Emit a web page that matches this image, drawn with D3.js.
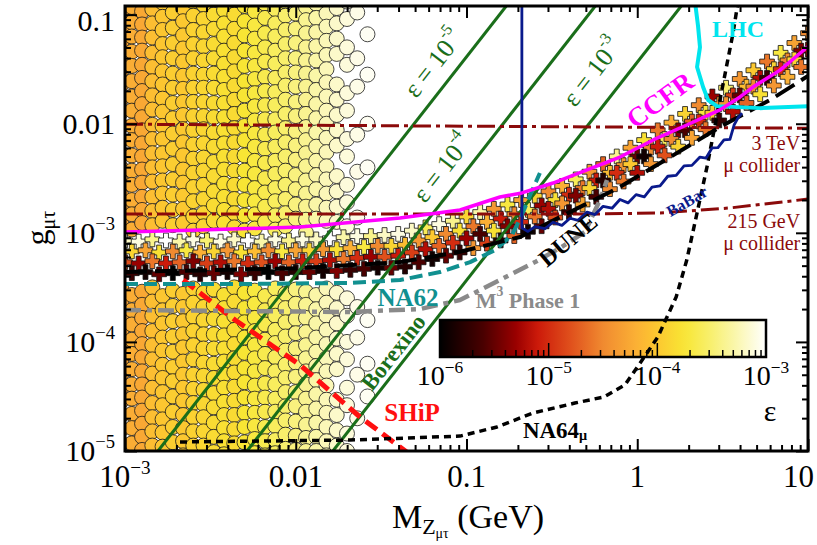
<!DOCTYPE html>
<html>
<head>
<meta charset="utf-8">
<script src="https://cdn.jsdelivr.net/npm/d3@7"></script>
<style>
  body { margin: 0; background: #fff; }
  svg { display: block; font-family: "Liberation Serif", "Times New Roman", serif; }
</style>
</head>
<body>
<div id="chart"></div>
<script>
// ---------------- data ----------------
// axes
const xMajor = [1e-3, 0.01, 0.1, 1, 10];
const xTickText = ["10^{−3}", "0.01", "0.1", "1", "10"];
const yMajor = [1e-5, 1e-4, 1e-3, 0.01, 0.1];
const yTickText = ["10^{−5}", "10^{−4}", "10^{−3}", "0.01", "0.1"];
const cbarMajor = [1e-6, 1e-5, 1e-4, 1e-3];
const cbarTickText = ["10^{−6}", "10^{−5}", "10^{−4}", "10^{−3}"];

// colour map for epsilon (log10 eps -> colour)
const epsStops = [-6, -5.6, -5.3, -5.1, -4.8, -4.5, -4.2, -4.0, -3.75, -3.5, -3.25, -3.0];
const epsColors = ["#000000", "#4a0000", "#9a0000", "#cc1a0a", "#e0501c", "#f08a30",
                   "#fbb035", "#fcc830", "#f8e634", "#f8f070", "#fbf7b5", "#ffffff"];

// scan points shown as circles: columns in log10(M/GeV), eps per column, log10(g) per column
const cloudColLogM = [-3.02, -2.96, -2.90, -2.84, -2.78, -2.72, -2.66, -2.60, -2.54, -2.48, -2.42, -2.36, -2.30,
                      -2.24, -2.18, -2.12, -2.06, -2.00, -1.94, -1.88, -1.82, -1.76, -1.70, -1.64, -1.58];
const cloudColLogEps = [-4.32, -4.22, -4.26, -4.08, -4.02, -3.96, -4.00, -3.92, -3.88, -3.84, -3.80, -3.84, -3.76,
                        -3.70, -3.64, -3.58, -3.52, -3.45, -3.38, -3.30, -3.24, -3.18, -3.12, -3.08, -3.04];
const cloudColLogG = [
  [-0.87,-1.00,-1.13,-1.25,-1.38,-1.51,-1.64,-1.77,-1.89,-2.02,-2.15,-2.28,-2.41,-2.53,-2.66,-2.79,-2.92,-3.52,-3.65,-3.78,-3.90,-4.03,-4.16,-4.29,-4.42,-4.54,-4.67,-4.80,-4.93,-5.06],
  [-0.93,-1.07,-1.20,-1.34,-1.47,-1.61,-1.75,-1.88,-2.02,-2.15,-2.29,-2.43,-2.56,-2.70,-2.83,-2.97,-3.57,-3.71,-3.84,-3.98,-4.11,-4.25,-4.39,-4.52,-4.66,-4.79,-4.93,-5.07],
  [-0.85,-0.97,-1.09,-1.21,-1.33,-1.46,-1.58,-1.70,-1.82,-1.94,-2.06,-2.18,-2.30,-2.42,-2.54,-2.67,-2.79,-2.91,-3.54,-3.66,-3.78,-3.90,-4.02,-4.14,-4.27,-4.39,-4.51,-4.63,-4.75,-4.87,-4.99],
  [-0.95,-1.08,-1.21,-1.35,-1.48,-1.61,-1.74,-1.87,-2.01,-2.14,-2.27,-2.40,-2.53,-2.67,-2.80,-2.93,-3.50,-3.63,-3.76,-3.90,-4.03,-4.16,-4.29,-4.42,-4.56,-4.69,-4.82,-4.95,-5.08],
  [-0.89,-1.02,-1.14,-1.27,-1.39,-1.52,-1.64,-1.77,-1.89,-2.02,-2.14,-2.27,-2.39,-2.52,-2.64,-2.77,-2.89,-3.58,-3.71,-3.83,-3.96,-4.08,-4.21,-4.33,-4.46,-4.58,-4.71,-4.83,-4.96,-5.08],
  [-0.84,-0.98,-1.12,-1.26,-1.40,-1.54,-1.67,-1.81,-1.95,-2.09,-2.23,-2.37,-2.51,-2.65,-2.79,-2.93,-3.53,-3.67,-3.81,-3.95,-4.09,-4.23,-4.36,-4.50,-4.64,-4.78,-4.92,-5.06],
  [-0.94,-1.06,-1.19,-1.31,-1.43,-1.56,-1.68,-1.80,-1.92,-2.05,-2.17,-2.29,-2.42,-2.54,-2.66,-2.78,-2.91,-3.56,-3.68,-3.81,-3.93,-4.05,-4.18,-4.30,-4.42,-4.54,-4.67,-4.79,-4.91,-5.04],
  [-0.88,-1.01,-1.14,-1.27,-1.40,-1.54,-1.67,-1.80,-1.93,-2.06,-2.19,-2.32,-2.45,-2.58,-2.71,-2.85,-2.98,-3.51,-3.64,-3.77,-3.90,-4.03,-4.16,-4.30,-4.43,-4.56,-4.69,-4.82,-4.95,-5.08],
  [-0.91,-1.04,-1.16,-1.29,-1.42,-1.55,-1.67,-1.80,-1.93,-2.05,-2.18,-2.31,-2.43,-2.56,-2.69,-2.82,-2.94,-3.55,-3.68,-3.80,-3.93,-4.06,-4.19,-4.31,-4.44,-4.57,-4.69,-4.82,-4.95,-5.07],
  [-0.86,-1.00,-1.13,-1.27,-1.40,-1.54,-1.67,-1.81,-1.94,-2.08,-2.21,-2.35,-2.48,-2.62,-2.75,-2.89,-3.52,-3.66,-3.79,-3.93,-4.06,-4.20,-4.33,-4.47,-4.60,-4.74,-4.87,-5.01],
  [-0.96,-1.08,-1.20,-1.33,-1.45,-1.57,-1.69,-1.81,-1.94,-2.06,-2.18,-2.30,-2.42,-2.55,-2.67,-2.79,-2.91,-3.57,-3.69,-3.81,-3.94,-4.06,-4.18,-4.30,-4.42,-4.55,-4.67,-4.79,-4.91,-5.03],
  [-0.87,-1.00,-1.13,-1.26,-1.39,-1.52,-1.65,-1.78,-1.91,-2.04,-2.17,-2.30,-2.43,-2.56,-2.69,-2.82,-2.95,-3.50,-3.63,-3.76,-3.89,-4.02,-4.15,-4.28,-4.41,-4.54,-4.67,-4.80,-4.93,-5.06],
  [-0.92,-1.06,-1.19,-1.33,-1.47,-1.61,-1.74,-1.88,-2.02,-2.15,-2.29,-2.43,-2.56,-2.70,-2.84,-2.98,-3.55,-3.69,-3.82,-3.96,-4.10,-4.24,-4.37,-4.51,-4.65,-4.78,-4.92,-5.06],
  [-0.85,-0.97,-1.10,-1.22,-1.35,-1.47,-1.59,-1.72,-1.84,-1.97,-2.09,-2.21,-2.34,-2.46,-2.59,-2.71,-2.83,-2.96,-3.53,-3.65,-3.78,-3.90,-4.03,-4.15,-4.27,-4.40,-4.52,-4.65,-4.77,-4.89,-5.02],
  [-0.90,-1.03,-1.17,-1.30,-1.43,-1.57,-1.70,-1.83,-1.96,-2.10,-2.23,-2.36,-2.50,-2.63,-2.76,-2.90,-3.58,-3.71,-3.84,-3.98,-4.11,-4.24,-4.38,-4.51,-4.64,-4.78,-4.91,-5.04],
  [-0.95,-1.08,-1.20,-1.33,-1.45,-1.58,-1.71,-1.83,-1.96,-2.08,-2.21,-2.34,-2.46,-2.59,-2.71,-2.84,-2.97,-3.51,-3.64,-3.76,-3.89,-4.01,-4.14,-4.27,-4.39,-4.52,-4.64,-4.77,-4.90,-5.02],
  [-0.88,-1.01,-1.14,-1.27,-1.40,-1.53,-1.65,-1.78,-1.91,-2.04,-2.17,-2.30,-2.43,-2.56,-2.69,-2.82,-2.94,-3.56,-3.69,-3.82,-3.95,-4.08,-4.21,-4.33,-4.46,-4.59,-4.72,-4.85,-4.98],
  [-0.86,-0.99,-1.13,-1.26,-1.40,-1.53,-1.66,-1.80,-1.93,-2.07,-2.20,-2.33,-2.47,-2.60,-2.74,-2.87,-3.52,-3.65,-3.79,-3.92,-4.06,-4.19,-4.32,-4.46,-4.59,-4.73,-4.86,-4.99],
  [-0.93,-1.05,-1.17,-1.30,-1.42,-1.54,-1.66,-1.78,-1.91,-2.03,-2.15,-2.27,-2.39,-2.52,-2.64,-2.76,-2.88,-3.00,-3.54,-3.66,-3.78,-3.91,-4.03,-4.15,-4.27,-4.39,-4.52,-4.64,-4.76,-4.88,-5.00],
  [-0.90,-1.03,-1.16,-1.29,-1.42,-1.56,-1.69,-1.82,-1.95,-2.08,-2.21,-2.34,-2.47,-2.60,-2.74,-2.87,-3.57,-3.70,-3.83,-3.96,-4.09,-4.22,-4.35,-4.48,-4.61,-4.74,-4.87,-5.00],
  [-0.86,-0.99,-1.11,-1.24,-1.37,-1.50,-1.62,-1.75,-1.88,-2.00,-2.13,-2.26,-2.39,-2.51,-2.64,-2.77,-2.89,-3.51,-3.64,-3.76,-3.89,-4.02,-4.15,-4.27,-4.40,-4.53,-4.65,-4.78,-4.91,-5.04],
  [-0.94,-1.08,-1.22,-1.36,-1.64,-1.78,-1.92,-2.06,-2.20,-2.48,-2.62,-2.76,-2.90,-3.55,-3.69,-3.83,-3.97,-4.11,-4.25,-4.53,-4.67,-4.81,-4.95],
  [-0.88,-1.04,-1.30,-1.46,-1.72,-1.88,-2.14,-2.30,-2.56,-2.72,-2.94,-3.60,-3.76,-4.00,-4.16,-4.42,-4.58,-4.84,-5.00],
  [-0.98,-1.40,-1.66,-2.10,-2.44,-2.86,-3.68,-3.96,-4.30,-4.70],
  [-1.18,-1.55,-2.00,-2.40,-3.80,-4.20,-4.50]
];

// scan points shown as crosses: [log10 M, log10 g, log10 eps]
const crossPts = [
  [-3.00,-3.07,-3.2],[-2.96,-3.17,-3.9],[-3.00,-3.27,-4.8],[-2.96,-3.37,-5.7],
  [-2.92,-3.08,-3.1],[-2.88,-3.16,-4.3],[-2.92,-3.28,-5.3],[-2.88,-3.36,-5.9],
  [-2.84,-3.06,-3.4],[-2.80,-3.18,-3.8],[-2.84,-3.26,-4.6],[-2.80,-3.38,-5.5],
  [-2.76,-3.07,-3.0],[-2.72,-3.17,-4.5],[-2.76,-3.28,-5.1],[-2.72,-3.37,-6.0],
  [-2.68,-3.08,-3.3],[-2.64,-3.16,-3.7],[-2.68,-3.27,-4.7],[-2.64,-3.36,-5.6],
  [-2.60,-3.06,-3.1],[-2.56,-3.18,-4.2],[-2.60,-3.26,-5.4],[-2.56,-3.38,-5.8],
  [-2.52,-3.07,-3.5],[-2.48,-3.17,-3.9],[-2.52,-3.28,-4.9],[-2.48,-3.37,-5.5],
  [-2.44,-3.08,-3.1],[-2.40,-3.16,-4.4],[-2.44,-3.27,-5.2],[-2.40,-3.36,-5.9],
  [-2.36,-3.06,-3.2],[-2.32,-3.18,-3.8],[-2.36,-3.26,-4.6],[-2.32,-3.38,-5.4],
  [-2.28,-3.07,-3.0],[-2.24,-3.17,-4.1],[-2.28,-3.28,-5.0],[-2.24,-3.37,-5.7],
  [-2.20,-3.08,-3.3],[-2.16,-3.16,-4.5],[-2.20,-3.27,-4.8],[-2.16,-3.36,-6.0],
  [-2.12,-3.06,-3.1],[-2.08,-3.17,-3.7],[-2.12,-3.26,-5.3],[-2.08,-3.37,-5.6],
  [-2.04,-3.07,-3.4],[-2.00,-3.16,-4.3],[-2.04,-3.27,-4.7],[-2.00,-3.36,-5.8],
  [-1.96,-3.06,-3.1],[-1.92,-3.16,-3.9],[-1.96,-3.26,-5.1],[-1.92,-3.36,-5.5],
  [-1.88,-3.06,-3.2],[-1.84,-3.15,-4.4],[-1.88,-3.26,-4.9],[-1.84,-3.35,-5.9],
  [-1.80,-3.05,-3.0],[-1.76,-3.15,-3.8],[-1.80,-3.25,-5.2],[-1.76,-3.35,-5.4],
  [-1.72,-3.04,-3.3],[-1.68,-3.14,-4.2],[-1.72,-3.24,-4.6],[-1.68,-3.34,-5.7],
  [-1.64,-3.03,-3.1],[-1.60,-3.13,-3.7],[-1.64,-3.23,-5.0],[-1.60,-3.33,-5.6],
  [-1.56,-3.03,-3.4],[-1.52,-3.12,-4.5],[-1.56,-3.22,-5.3],[-1.52,-3.32,-5.9],
  [-1.48,-3.02,-3.2],[-1.44,-3.12,-3.9],[-1.48,-3.22,-4.8],[-1.44,-3.32,-5.5],
  [-1.40,-3.01,-3.1],[-1.36,-3.11,-4.1],[-1.40,-3.21,-5.1],[-1.36,-3.31,-5.8],
  [-1.32,-2.98,-3.2],[-1.28,-3.07,-4.4],[-1.32,-3.18,-4.9],[-1.28,-3.27,-5.6],
  [-1.24,-2.95,-3.6],[-1.20,-3.04,-4.0],[-1.24,-3.15,-5.2],[-1.20,-3.24,-5.9],
  [-1.16,-2.92,-3.1],[-1.12,-3.01,-4.5],[-1.16,-3.12,-4.7],[-1.12,-3.21,-5.5],
  [-1.08,-2.89,-3.4],[-1.04,-2.98,-3.8],[-1.08,-3.09,-5.0],[-1.04,-3.18,-5.7],
  [-1.00,-2.85,-3.9],[-0.96,-2.94,-4.6],[-1.00,-3.05,-5.3],[-0.96,-3.14,-4.4],
  [-0.92,-2.81,-3.3],[-0.88,-2.90,-4.2],[-0.92,-3.01,-5.6],[-0.88,-3.10,-4.9],
  [-0.84,-2.78,-4.4],[-0.80,-2.87,-5.1],[-0.84,-2.98,-3.8],[-0.80,-3.07,-5.8],
  [-0.76,-2.74,-3.7],[-0.72,-2.83,-4.5],[-0.76,-2.94,-5.4],[-0.72,-3.03,-4.7],
  [-0.68,-2.70,-4.3],[-0.64,-2.79,-3.6],[-0.68,-2.90,-5.0],[-0.64,-2.99,-5.9],
  [-0.60,-2.66,-3.9],[-0.56,-2.75,-5.3],[-0.60,-2.85,-4.6],[-0.56,-2.94,-5.5],
  [-0.52,-2.62,-4.5],[-0.48,-2.70,-3.8],[-0.52,-2.78,-5.2],[-0.48,-2.86,-4.8],
  [-0.44,-2.57,-4.2],[-0.40,-2.65,-5.0],[-0.44,-2.73,-4.4],[-0.40,-2.81,-5.7],
  [-0.36,-2.51,-3.6],[-0.32,-2.59,-4.6],[-0.36,-2.66,-5.4],[-0.32,-2.74,-4.3],
  [-0.28,-2.44,-4.4],[-0.24,-2.52,-5.1],[-0.28,-2.59,-3.9],[-0.24,-2.67,-5.6],
  [-0.20,-2.37,-4.7],[-0.16,-2.45,-4.1],[-0.20,-2.52,-5.8],[-0.16,-2.60,-4.5],
  [-0.12,-2.30,-3.4],[-0.08,-2.38,-4.4],[-0.12,-2.45,-5.0],[-0.08,-2.53,-4.6],
  [-0.04,-2.22,-4.3],[ 0.00,-2.30,-5.5],[-0.04,-2.37,-4.0],[ 0.00,-2.45,-5.2],
  [ 0.04,-2.15,-3.8],[ 0.08,-2.22,-4.5],[ 0.04,-2.30,-5.9],[ 0.08,-2.37,-4.4],
  [ 0.12,-2.06,-4.6],[ 0.16,-2.14,-3.6],[ 0.12,-2.21,-5.1],[ 0.16,-2.29,-4.8],
  [ 0.20,-1.99,-4.2],[ 0.24,-2.06,-5.4],[ 0.20,-2.14,-4.5],[ 0.24,-2.21,-3.9],
  [ 0.28,-1.91,-3.9],[ 0.32,-1.98,-4.7],[ 0.28,-2.06,-5.6],[ 0.32,-2.13,-4.3],
  [ 0.36,-1.83,-4.5],[ 0.40,-1.90,-3.7],[ 0.36,-1.98,-5.0],[ 0.40,-2.05,-4.6],
  [ 0.44,-1.75,-5.3],[ 0.48,-1.82,-4.4],[ 0.44,-1.90,-4.0],[ 0.48,-1.97,-5.7],
  [ 0.52,-1.67,-3.5],[ 0.56,-1.74,-4.9],[ 0.52,-1.82,-4.4],[ 0.56,-1.89,-5.2],
  [ 0.60,-1.59,-4.4],[ 0.64,-1.66,-4.1],[ 0.60,-1.74,-5.5],[ 0.64,-1.81,-4.7],
  [ 0.68,-1.51,-4.0],[ 0.72,-1.58,-5.2],[ 0.68,-1.66,-4.5],[ 0.72,-1.73,-3.8],
  [ 0.76,-1.43,-4.6],[ 0.80,-1.50,-3.9],[ 0.76,-1.58,-5.7],[ 0.80,-1.65,-4.4],
  [ 0.84,-1.35,-3.7],[ 0.88,-1.42,-4.5],[ 0.84,-1.50,-5.0],[ 0.88,-1.57,-4.2],
  [ 0.92,-1.26,-4.3],[ 0.96,-1.33,-5.4],[ 0.92,-1.41,-3.9],[ 0.96,-1.48,-4.6],
  [ 1.00,-1.17,-4.5],[ 1.04,-1.24,-4.0],[ 1.00,-1.32,-5.1],[ 1.04,-1.39,-4.4]
];

// limit / sensitivity curves (M in GeV, g)
const ccfrM = [1e-3, 2.75e-3, 0.0106, 0.0408, 0.0916, 0.157, 0.211, 0.321, 0.508, 0.792, 1.24, 1.95, 3.05, 4.00, 4.76, 6.86, 10];
const ccfrG = [1.02e-3, 1.06e-3, 1.13e-3, 1.37e-3, 1.62e-3, 2.13e-3, 2.32e-3, 2.86e-3, 3.77e-3, 4.95e-3, 7.10e-3, 9.73e-3, 0.0134, 0.0176, 0.0217, 0.0310, 0.0510];
const tev3M = [1e-3, 10];
const tev3G = [9.9e-3, 9.1e-3];
const gev215M = [1e-3, 0.605, 1.36, 3.49, 10];
const gev215G = [1.49e-3, 1.49e-3, 1.52e-3, 1.69e-3, 2.04e-3];
const babarM = [0.211, 0.211, 0.229, 0.252, 0.288, 0.321, 0.362, 0.404, 0.450, 0.508, 0.566, 0.631, 0.712, 0.792, 0.883, 0.984,
                1.10, 1.22, 1.36, 1.51, 1.69, 1.88, 2.09, 2.33, 2.53, 2.74, 2.97, 3.22, 3.49, 3.69, 3.89, 4.11];
const babarG = [0.13, 1.11e-3, 1.03e-3, 1.14e-3, 1.09e-3, 1.25e-3, 1.17e-3, 1.36e-3, 1.30e-3, 1.55e-3, 1.47e-3, 1.75e-3, 1.68e-3,
                2.02e-3, 1.88e-3, 2.24e-3, 2.14e-3, 2.62e-3, 2.70e-3, 3.30e-3, 3.36e-3, 4.10e-3, 4.15e-3, 4.95e-3, 4.85e-3,
                6.00e-3, 6.05e-3, 7.10e-3, 7.20e-3, 9.73e-3, 0.0113, 0.0125];
const duneM = [1e-3, 0.0106, 0.0408, 0.0916, 0.206, 0.404, 0.792, 1.56, 3.05, 5.99, 10];
const duneG = [4.37e-4, 4.75e-4, 5.39e-4, 6.7e-4, 9.15e-4, 1.55e-3, 2.63e-3, 4.95e-3, 9.33e-3, 0.0165, 0.0274];
const na62M = [1e-3, 5.4e-3, 0.0208, 0.0408, 0.070, 0.105, 0.147, 0.185, 0.211, 0.236, 0.269];
const na62G = [3.40e-4, 3.40e-4, 3.47e-4, 3.69e-4, 4.37e-4, 5.39e-4, 6.95e-4, 9.55e-4, 1.46e-3, 2.22e-3, 3.53e-3];
const m3M = [1e-3, 0.0208, 0.0534, 0.0916, 0.157, 0.252, 0.353, 0.494, 0.605, 0.665];
const m3G = [1.96e-4, 1.88e-4, 2.00e-4, 2.42e-4, 3.69e-4, 5.39e-4, 7.26e-4, 1.02e-3, 2.0e-3, 3.05e-3];
const shipM = [2.19e-3, 4.41e-3, 0.0106, 0.0238, 0.0454];
const shipG = [3.69e-4, 1.59e-4, 6.14e-5, 2.05e-5, 9.6e-6];
const na64M = [2.10e-3, 0.0208, 0.0916, 0.151, 0.245, 0.431, 0.638, 0.847, 1.04, 1.32, 1.69, 1.95, 2.24, 2.56, 3.05, 3.64, 3.89];
const na64G = [1.21e-5, 1.26e-5, 1.37e-5, 1.66e-5, 2.23e-5, 2.75e-5, 3.13e-5, 4.03e-5, 6.41e-5, 1.11e-4, 2.58e-4, 5.63e-4,
               1.52e-3, 4.01e-3, 0.0165, 0.0678, 0.13];
const lhcM = [2.18, 2.27, 2.33, 2.24, 2.43, 2.60, 2.93, 5.24, 10];
const lhcG = [0.13, 0.0787, 0.0504, 0.0331, 0.0217, 0.0165, 0.0145, 0.0139, 0.0145];
// constant-epsilon lines: M at g = 1e-5 and at g = 0.12
const epsLineM = [[1.56e-3, 0.171], [5.18e-3, 0.568], [0.0165, 1.81]];
const epsLineG = [1e-5, 0.12];

// annotations: text, position (M, g), rotation, colour, size, weight
const notes = [
  {t: "LHC", m: 3.89, g: 0.0738, r: 0, c: "#00e5ee", s: 24, b: true},
  {t: "CCFR", m: 1.36, g: 0.0165, r: -36, c: "#ff00ff", s: 27, b: true},
  {t: "3 TeV", m: 9.0, g: 6.65e-3, r: 0, c: "#8b0a0a", s: 20, b: false, a: "end"},
  {t: "μ collider", m: 9.0, g: 4.18e-3, r: 0, c: "#8b0a0a", s: 20, b: false, a: "end"},
  {t: "215 GeV", m: 9.0, g: 1.28e-3, r: 0, c: "#8b0a0a", s: 20, b: false, a: "end"},
  {t: "μ collider", m: 9.0, g: 8.07e-4, r: 0, c: "#8b0a0a", s: 20, b: false, a: "end"},
  {t: "BaBar", m: 1.95, g: 1.96e-3, r: -30, c: "#0a1a8c", s: 16, b: true},
  {t: "DUNE", m: 0.393, g: 8.59e-4, r: -40, c: "#000000", s: 24, b: true},
  {t: "NA62", m: 0.0454, g: 2.58e-4, r: 0, c: "#119090", s: 25, b: true},
  {t: "M^{3} Phase 1", m: 0.229, g: 2.42e-4, r: 0, c: "#8a8a8a", s: 22, b: true},
  {t: "SHiP", m: 0.048, g: 2.28e-5, r: 0, c: "#ff1010", s: 25, b: true},
  {t: "NA64_{μ}", m: 0.330, g: 1.56e-5, r: 0, c: "#000000", s: 23, b: true},
  {t: "Borexino", m: 0.0372, g: 8.07e-5, r: -52, c: "#1a6e1a", s: 23, b: true},
  {t: "ε = 10^{-5}", m: 0.0637, g: 0.0360, r: -52, c: "#1a6e1a", s: 26, b: false},
  {t: "ε = 10^{-4}", m: 0.0719, g: 3.93e-3, r: -52, c: "#1a6e1a", s: 26, b: false},
  {t: "ε = 10^{-3}", m: 0.543, g: 0.0298, r: -52, c: "#1a6e1a", s: 26, b: false},
  {t: "ε", m: 5.99, g: 2.38e-5, r: 0, c: "#000000", s: 30, b: false}
];

// ---------------- drawing ----------------
const W = 817, H = 545;
const x = d3.scaleLog().domain([1e-3, 10]).range([125, 808]);
const y = d3.scaleLog().domain([1e-5, 0.12]).range([451, 6]);
const epsColor = d3.scaleLinear().domain(epsStops).range(epsColors).clamp(true);

const svg = d3.select("#chart").append("svg")
  .attr("width", W).attr("height", H)
  .style("background", "#fff");

svg.append("defs").append("clipPath").attr("id", "plotclip")
  .append("rect")
  .attr("x", x.range()[0]).attr("y", y.range()[1])
  .attr("width", x.range()[1] - x.range()[0])
  .attr("height", y.range()[0] - y.range()[1]);

// rich text helper: "^{..}" superscript, "_{..}" subscript
function parseRich(str) {
  const parts = [];
  const re = /([\^_])\{([^}]*)\}/g;
  let last = 0, mt;
  while ((mt = re.exec(str))) {
    if (mt.index > last) parts.push([str.slice(last, mt.index), 0]);
    parts.push([mt[2], mt[1] === "^" ? 1 : -1]);
    last = re.lastIndex;
  }
  if (last < str.length) parts.push([str.slice(last), 0]);
  return parts;
}
function richText(text, str, size) {
  let shift = 0;
  parseRich(str).forEach(([s, k]) => {
    const target = k === 1 ? -size * 0.42 : k === -1 ? size * 0.22 : 0;
    text.append("tspan")
      .attr("dy", target - shift)
      .attr("font-size", k ? size * 0.62 : size)
      .text(s);
    shift = target;
  });
}

const plot = svg.append("g").attr("clip-path", "url(#plotclip)");

// circles
const cloud = [];
cloudColLogM.forEach((lm, i) => {
  cloudColLogG[i].forEach(lg => cloud.push({m: Math.pow(10, lm), g: Math.pow(10, lg), e: cloudColLogEps[i]}));
});
plot.append("g").selectAll("circle")
  .data(cloud)
  .join("circle")
  .attr("cx", d => x(d.m))
  .attr("cy", d => y(d.g))
  .attr("r", 7.5)
  .attr("fill", d => epsColor(d.e))
  .attr("stroke", "#1a1a1a")
  .attr("stroke-width", 0.8);

// crosses
const crossShape = d3.symbol(d3.symbolCross, 120)();
plot.append("g").selectAll("path")
  .data(crossPts)
  .join("path")
  .attr("transform", d => `translate(${x(Math.pow(10, d[0]))},${y(Math.pow(10, d[1]))})`)
  .attr("d", crossShape)
  .attr("fill", d => epsColor(d[2]))
  .attr("stroke", "#111")
  .attr("stroke-width", 0.8);

// colour bar
const cb = {x0: 440, x1: 766, y0: 320, y1: 357};
const cbx = d3.scaleLog().domain([1e-6, 1e-3]).range([cb.x0, cb.x1]);
const grad = svg.select("defs").append("linearGradient").attr("id", "cbgrad");
d3.range(0, 31).forEach(i => {
  grad.append("stop").attr("offset", (i / 30 * 100) + "%").attr("stop-color", epsColor(-6 + 3 * i / 30));
});
const cbar = svg.append("g");
cbar.append("rect")
  .attr("x", cb.x0).attr("y", cb.y0)
  .attr("width", cb.x1 - cb.x0).attr("height", cb.y1 - cb.y0)
  .attr("fill", "url(#cbgrad)")
  .attr("stroke", "#000").attr("stroke-width", 2.5);
const cbMinor = cbx.ticks().filter(v => !cbarMajor.some(m => Math.abs(m - v) / m < 1e-6));
cbar.selectAll(".cbminor").data(cbMinor).join("line")
  .attr("x1", d => cbx(d)).attr("x2", d => cbx(d))
  .attr("y1", cb.y1).attr("y2", cb.y1 - 7)
  .attr("stroke", "#000").attr("stroke-width", 1.5);
cbar.selectAll(".cbmajor").data(cbarMajor).join("line")
  .attr("x1", d => cbx(d)).attr("x2", d => cbx(d))
  .attr("y1", cb.y1).attr("y2", cb.y1 - 14)
  .attr("stroke", "#000").attr("stroke-width", 1.5);
cbarMajor.forEach((v, i) => {
  const t = cbar.append("text")
    .attr("x", cbx(v)).attr("y", 385)
    .attr("text-anchor", "middle").attr("font-size", 28).attr("fill", "#000");
  richText(t, cbarTickText[i], 28);
});

// curves
const line = d3.line().x(d => x(d[0])).y(d => y(d[1]));
const lines = svg.append("g").attr("clip-path", "url(#plotclip)").attr("fill", "none");
function curve(M, G, color, width, dash) {
  lines.append("path")
    .attr("d", line(d3.zip(M, G)))
    .attr("stroke", color)
    .attr("stroke-width", width)
    .attr("stroke-dasharray", dash || null)
    .attr("stroke-linejoin", "round");
}
epsLineM.forEach(ms => curve(ms, epsLineG, "#1a6e1a", 3));
curve(tev3M, tev3G, "#8b0a0a", 3, "18,5,4,5");
curve(gev215M, gev215G, "#8b0a0a", 3, "18,5,4,5");
curve(shipM, shipG, "#ff1010", 5, "14,7");
curve(m3M, m3G, "#8a8a8a", 4.5, "16,6,5,6");
curve(na62M, na62G, "#119090", 4, "13,6");
curve(duneM, duneG, "#000000", 4, "22,8");
curve(na64M, na64G, "#000000", 3.5, "7,5");
curve(babarM, babarG, "#0a1a8c", 2.8);
curve(lhcM, lhcG, "#00e5ee", 4);
curve(ccfrM, ccfrG, "#ff00ff", 3.5);

// annotations
const ann = svg.append("g");
notes.forEach(n => {
  const t = ann.append("text")
    .attr("transform", `translate(${x(n.m)},${y(n.g)}) rotate(${n.r})`)
    .attr("text-anchor", n.a || "middle")
    .attr("dominant-baseline", "central")
    .attr("font-size", n.s)
    .attr("font-weight", n.b ? "bold" : "normal")
    .attr("fill", n.c);
  richText(t, n.t, n.s);
});

// axes: ticks on all four sides, pointing inward
const xMinor = x.ticks().filter(v => !xMajor.some(m => Math.abs(m - v) / m < 1e-6));
const yMinor = y.ticks().filter(v => !yMajor.some(m => Math.abs(m - v) / m < 1e-6));
const axes = svg.append("g");
function ticks(axisFn, scale, values, size, transform) {
  const g = axes.append("g").attr("transform", transform)
    .call(axisFn(scale).tickValues(values).tickSize(-size).tickFormat(""));
  g.select(".domain").remove();
  g.selectAll("line").attr("stroke", "#000").attr("stroke-width", 2);
}
ticks(d3.axisBottom, x, xMinor, 6, `translate(0,${y.range()[0]})`);
ticks(d3.axisBottom, x, xMajor, 12, `translate(0,${y.range()[0]})`);
ticks(d3.axisTop, x, xMinor, 6, `translate(0,${y.range()[1]})`);
ticks(d3.axisTop, x, xMajor, 12, `translate(0,${y.range()[1]})`);
ticks(d3.axisLeft, y, yMinor, 6, `translate(${x.range()[0]},0)`);
ticks(d3.axisLeft, y, yMajor, 12, `translate(${x.range()[0]},0)`);
ticks(d3.axisRight, y, yMinor, 6, `translate(${x.range()[1]},0)`);
ticks(d3.axisRight, y, yMajor, 12, `translate(${x.range()[1]},0)`);

axes.append("rect")
  .attr("x", x.range()[0]).attr("y", y.range()[1])
  .attr("width", x.range()[1] - x.range()[0])
  .attr("height", y.range()[0] - y.range()[1])
  .attr("fill", "none").attr("stroke", "#000").attr("stroke-width", 3);

// tick labels
xMajor.forEach((v, i) => {
  const t = axes.append("text")
    .attr("x", x(v)).attr("y", 487)
    .attr("text-anchor", "middle").attr("font-size", 31);
  richText(t, xTickText[i], 31);
  const bb = t.node().getBBox();
  if (bb.x + bb.width > W - 3) t.attr("x", x(v) - (bb.x + bb.width - (W - 3)));
});
yMajor.forEach((v, i) => {
  const t = axes.append("text")
    .attr("x", 115).attr("y", Math.max(y(v) + 10, 31))
    .attr("text-anchor", "end").attr("font-size", 30);
  richText(t, yTickText[i], 30);
});

// axis titles
const xt = axes.append("text")
  .attr("x", 468).attr("y", 528)
  .attr("text-anchor", "middle").attr("font-size", 34);
xt.append("tspan").text("M");
xt.append("tspan").attr("font-size", 22).attr("dy", 6).text("Z");
xt.append("tspan").attr("font-size", 14).attr("dy", 4).text("μτ");
xt.append("tspan").attr("font-size", 34).attr("dy", -10).text(" (GeV)");

const yt = axes.append("text")
  .attr("transform", "translate(48,228) rotate(-90)")
  .attr("text-anchor", "middle").attr("font-size", 32);
yt.append("tspan").text("g");
yt.append("tspan").attr("font-size", 20).attr("dy", 7).text("μτ");
</script>
</body>
</html>
